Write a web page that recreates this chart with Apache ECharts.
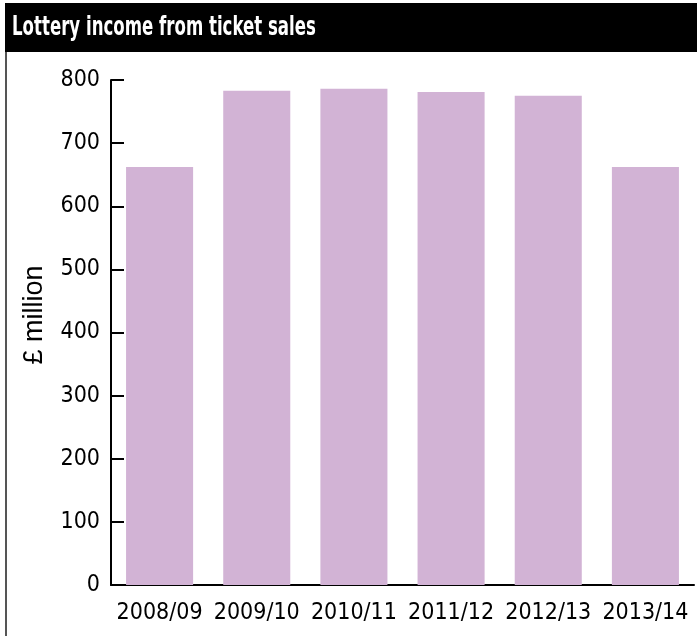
<!DOCTYPE html>
<html><head><meta charset="utf-8">
<script src="https://cdn.jsdelivr.net/npm/echarts@6/dist/echarts.min.js"></script>
<style>html,body{margin:0;padding:0;background:#fff}#c{width:697px;height:636px}</style>
</head><body><div id="c"></div>
<script>
const titleText = "Lottery income from ticket sales";
const yAxisName = "£ million";
const categories = ["2008/09","2009/10","2010/11","2011/12","2012/13","2013/14"];
const values = [662, 783, 786, 781, 775, 662];
const yTicks = [0,100,200,300,400,500,600,700,800];

const FONT = "'DejaVu Sans Condensed','Liberation Sans Narrow',sans-serif";
const chart = echarts.init(document.getElementById('c'), null, {renderer:'canvas'});
chart.setOption({
  animation:false,
  backgroundColor:'#fff',
  graphic:[
    {type:'rect', shape:{x:5,y:3,width:692,height:49}, style:{fill:'#000'}, z:0},
    {type:'line', shape:{x1:6,y1:52,x2:6,y2:636}, style:{stroke:'#555',lineWidth:2}, z:0},
    {type:'text', x:12, y:28, scaleX:0.71, z:5,
      style:{text:titleText, fill:'#fff', font:"bold 26px 'DejaVu Sans Condensed',sans-serif", verticalAlign:'middle', align:'left'}},
    {type:'text', x:35, y:315, rotation:Math.PI/2, z:5,
      style:{text:yAxisName, fill:'#000', font:"27px 'Liberation Sans',Arial,sans-serif", verticalAlign:'middle', align:'center'}}
  ],
  grid:{left:111, right:3, top:80, bottom:51, containLabel:false},
  xAxis:{type:'category', data:categories,
    axisLine:{lineStyle:{color:'#000', width:2}},
    axisTick:{inside:true, length:12, lineStyle:{color:'#000', width:2}},
    axisLabel:{color:'#000', fontFamily:FONT, fontSize:23, margin:17, interval:0}
  },
  yAxis:{type:'value', min:yTicks[0], max:yTicks[yTicks.length-1], interval:100,
    splitLine:{show:false},
    axisLine:{show:true, lineStyle:{color:'#000', width:2}},
    axisTick:{show:true, inside:true, length:13, lineStyle:{color:'#000', width:2}},
    axisLabel:{color:'#000', fontFamily:FONT, fontSize:23, margin:11}
  },
  series:[{type:'bar', data:values, barWidth:'69%', itemStyle:{color:'#d2b3d5'}}]
});
</script></body></html>
